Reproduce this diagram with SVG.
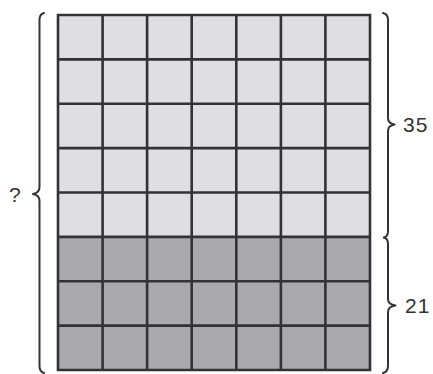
<svg xmlns="http://www.w3.org/2000/svg" width="433" height="374" viewBox="0 0 433 374">
<style>
.light{fill:#dfdfe1}
.dark{fill:#aaa9ae}
.grid{stroke:#333335;stroke-width:2.6;fill:none}
.brace{stroke:#333335;stroke-width:2;fill:none;stroke-linecap:round;stroke-linejoin:round}
.lbl{font-family:"Liberation Sans",Arial,sans-serif;font-size:21px;fill:#333335}
</style>
<rect width="433" height="374" fill="#ffffff"/>
<g id="grid">
<rect class="light" x="58" y="15" width="312" height="222"/>
<rect class="dark" x="58" y="237" width="312" height="133"/>
<path class="grid" d="M58,15H370V370H58Z M102.6,15V370 M147.1,15V370 M191.7,15V370 M236.3,15V370 M280.9,15V370 M325.4,15V370 M58,59.4H370 M58,103.8H370 M58,148.1H370 M58,192.5H370 M58,236.9H370 M58,281.3H370 M58,325.6H370"/>
</g>
<g id="connectors">
<path id="brace-total" class="brace" d="M44,13 Q39.5,14 39.5,20 V187 Q39.5,193 33,194 Q39.5,195 39.5,201 V366 Q39.5,372 44,373"/>
<path id="brace-35" class="brace" d="M383,13 Q388,14 388,20 V118 Q388,123.5 394.5,124.5 Q388,125.5 388,131 V231 Q388,236.5 384,237.5"/>
<path id="brace-21" class="brace" d="M384,237.5 Q388,238.5 388,244 V299 Q388,304.5 395.5,305.5 Q388,306.5 388,312 V366 Q388,372 383,373"/>
</g>
<g id="label-total"><text class="lbl" x="9" y="202">?</text></g>
<g id="label-35"><text class="lbl" x="403" y="132" letter-spacing="1">35</text></g>
<g id="label-21"><text class="lbl" x="405" y="313" letter-spacing="1">21</text></g>
</svg>
